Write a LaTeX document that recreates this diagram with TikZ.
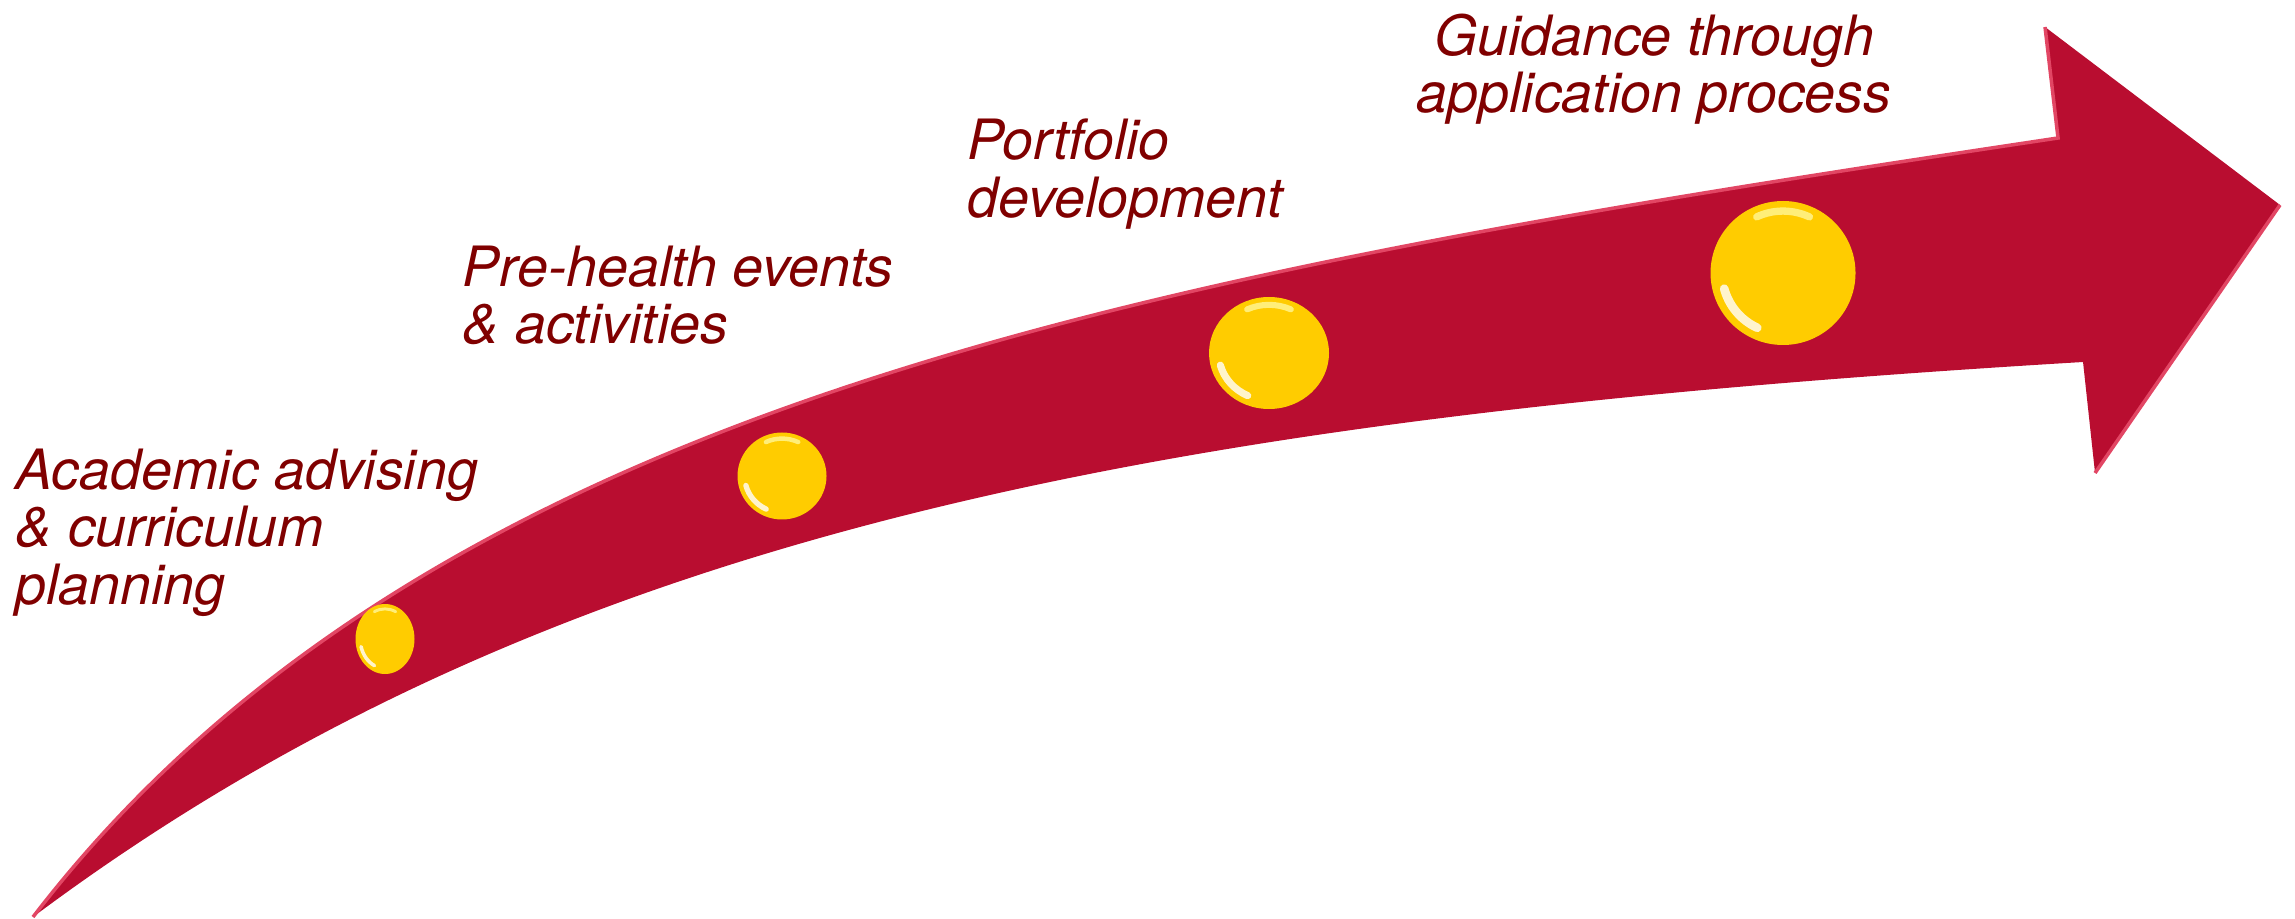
\documentclass[tikz,border=0pt]{standalone}
\usepackage{fontspec}
\setmainfont{TeX Gyre Heros}
\usetikzlibrary{shapes.geometric}
\definecolor{arrowred}{RGB}{185,13,48}
\definecolor{rimred}{RGB}{226,70,100}
\definecolor{textred}{RGB}{128,0,0}
\definecolor{dotgold}{RGB}{255,204,0}
\definecolor{dotlight}{RGB}{255,238,120}

\begin{document}
\begin{tikzpicture}[x=0.01cm, y=0.01cm,
        stage/.style={text=textred, inner sep=0pt, font=\fontsize{15.8}{16.4}\selectfont\itshape},
        dot/.style={ellipse, fill=dotgold, inner sep=0pt}]
    \useasboundingbox (0,0) rectangle (2295,918);
    % curved arrow
    \coordinate (tail) at (33,1);
    \coordinate (topjoin) at (2058,780);
    \coordinate (lowjoin) at (2083,556);
    \fill[arrowred] (tail) .. controls (433,521) and (1158,645) .. (topjoin)
        -- (2045,891) -- (2280,713) -- (2095,445) -- (lowjoin)
        .. controls (1183,502) and (560,395) .. (tail) -- cycle;
    \draw[rimred, line width=1pt] (tail) .. controls (433,521) and (1158,645) .. (topjoin) -- (2045,891);
    \draw[rimred, line width=1pt] (2280,713) -- (2095,445);
    % steps
    \foreach \name/\x/\y/\w/\h in {start/385/279/59/70, events/782/442/89/87, portfolio/1269/565/120/112, apply/1783/645/145/144} {
        \node[dot, minimum width={\w*0.01cm}, minimum height={\h*0.01cm}] (\name) at (\x,\y) {};
        \draw[white, opacity=0.8, line cap=round, line width={\w*0.0006cm}]
            (\x,\y) ++(195:{0.42*\w} and {0.42*\h}) arc[start angle=195, end angle=245, x radius=0.42*\w, y radius=0.42*\h];
        \draw[dotlight, line cap=round, line width={\w*0.0005cm}]
            (\x,\y) ++(65:{0.43*\w} and {0.43*\h}) arc[start angle=65, end angle=115, x radius=0.43*\w, y radius=0.43*\h];
    }
    \node[stage, anchor=north west, align=left] (advising_txt) at (15,470) {Academic advising\\ \& curriculum\\ planning};
    \node[stage, anchor=north west, align=left] (events_txt) at (462,673) {Pre-health events\\ \& activities};
    \node[stage, anchor=north west, align=left] (portfolio_txt) at (967,800) {Portfolio\\ development};
    \node[stage, anchor=north, align=center] (apply_txt) at (1654,905) {Guidance through\\ application process};
\end{tikzpicture}
\end{document}
